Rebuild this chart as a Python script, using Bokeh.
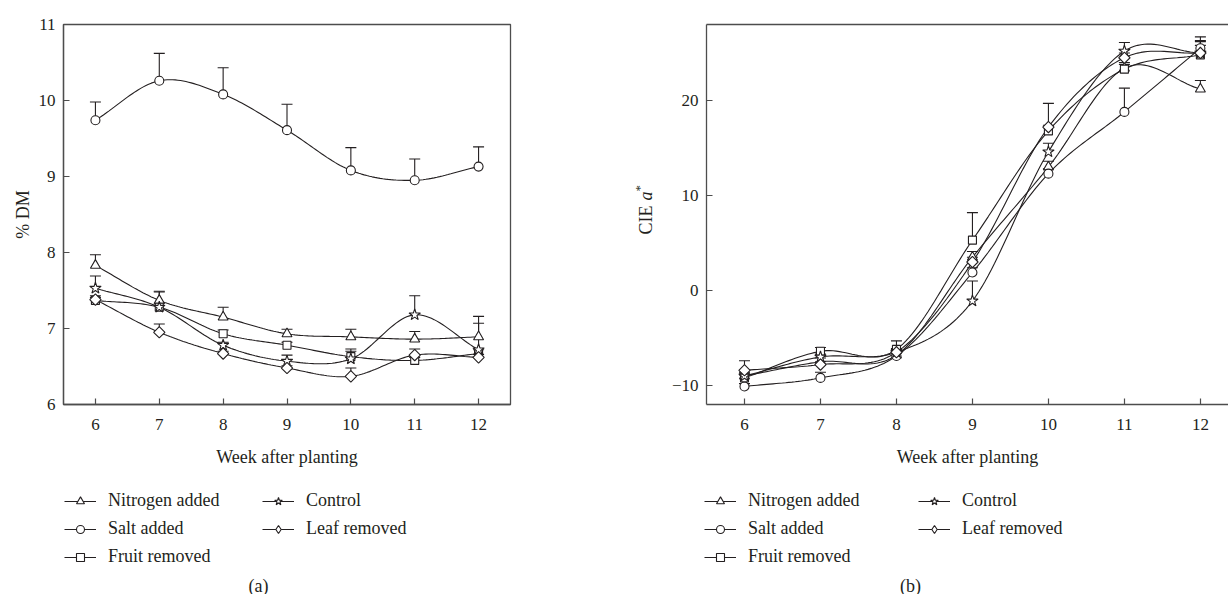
import numpy as np
from bokeh.plotting import figure
from bokeh.layouts import row, column
from bokeh.models import (ColumnDataSource, Whisker, TeeHead, Legend, LegendItem,
                          Label, LinearAxis, FixedTicker, Range1d)
from bokeh.embed import file_html
from bokeh.resources import INLINE

# ---------------- data ----------------
weeks = [6, 7, 8, 9, 10, 11, 12]
series_names = ["Nitrogen added", "Salt added", "Fruit removed", "Control", "Leaf removed"]
series_markers = ["triangle", "circle", "square", "star", "diamond"]

# (a) % DM
dm_nitrogen = [7.83, 7.37, 7.15, 6.93, 6.89, 6.86, 6.89]
dm_nitrogen_err = [0.14, 0.12, 0.13, 0.06, 0.10, 0.10, 0.18]
dm_salt = [9.74, 10.26, 10.08, 9.61, 9.08, 8.95, 9.13]
dm_salt_err = [0.24, 0.36, 0.35, 0.34, 0.30, 0.28, 0.26]
dm_fruit = [7.37, 7.28, 6.93, 6.78, 6.63, 6.58, 6.67]
dm_fruit_err = [0.06, 0.05, 0.05, 0.04, 0.10, 0.04, 0.05]
dm_control = [7.53, 7.28, 6.78, 6.57, 6.60, 7.18, 6.72]
dm_control_err = [0.16, 0.20, 0.04, 0.08, 0.10, 0.25, 0.44]
dm_leaf = [7.38, 6.95, 6.67, 6.48, 6.37, 6.65, 6.62]
dm_leaf_err = [0.03, 0.11, 0.03, 0.03, 0.11, 0.08, 0.04]

# (b) CIE a*
a_nitrogen = [-9.0, -7.5, -6.8, 3.5, 13.0, 23.4, 21.2]
a_nitrogen_err = [0.4, 0.4, 0.4, 0.6, 0.6, 0.6, 0.9]
a_salt = [-10.1, -9.2, -6.9, 1.9, 12.3, 18.8, 25.5]
a_salt_err = [0.3, 0.6, 0.3, 0.5, 0.5, 2.5, 1.2]
a_fruit = [-9.2, -6.4, -6.2, 5.3, 16.8, 23.3, 24.8]
a_fruit_err = [0.3, 0.4, 0.9, 2.9, 0.6, 0.5, 1.5]
a_control = [-9.0, -7.0, -6.5, -1.1, 14.6, 25.2, 25.0]
a_control_err = [0.3, 0.3, 0.4, 2.1, 0.9, 0.9, 1.2]
a_leaf = [-8.4, -7.8, -6.5, 3.0, 17.2, 24.5, 25.0]
a_leaf_err = [1.0, 0.3, 0.3, 0.5, 2.5, 0.5, 0.8]

dm_ticks = [6, 7, 8, 9, 10, 11]
a_ticks = [-10, 0, 10, 20]

# ---------------- style ----------------
FONT = "Liberation Serif"
INK = "#231f20"
AXIS = "#4d4d4d"
# marker name -> (bokeh marker, size, angle); in the charts the diamond is a square
# turned 45 degrees; legend keys do not rotate, so they use Bokeh's own diamond
marker_spec = {"triangle": ("triangle", 10, 0.0), "circle": ("circle", 9, 0.0),
               "square": ("square", 8, 0.0), "star": ("star", 12, 0.0),
               "diamond": ("square", 8, np.pi / 4)}
legend_spec = {"triangle": ("triangle", 9), "circle": ("circle", 8), "square": ("square", 7),
               "star": ("star", 11), "diamond": ("diamond", 12)}
TOP_H = 474          # height of the chart rows
BOT_H = 594 - TOP_H  # height of the legend rows


def smooth(xs, ys, n=24):
    """Cardinal (Catmull-Rom) spline through the data points, used to draw the curve."""
    xs = np.asarray(xs, float)
    ys = np.asarray(ys, float)
    m = np.zeros_like(ys)
    m[1:-1] = (ys[2:] - ys[:-2]) / (xs[2:] - xs[:-2])
    m[0] = (ys[1] - ys[0]) / (xs[1] - xs[0])
    m[-1] = (ys[-1] - ys[-2]) / (xs[-1] - xs[-2])
    ox, oy = [], []
    for i in range(len(xs) - 1):
        h = xs[i + 1] - xs[i]
        t = np.linspace(0, 1, n, endpoint=(i == len(xs) - 2))
        h00 = 2 * t**3 - 3 * t**2 + 1
        h10 = t**3 - 2 * t**2 + t
        h01 = -2 * t**3 + 3 * t**2
        h11 = t**3 - t**2
        ox.extend(xs[i] + t * h)
        oy.extend(h00 * ys[i] + h10 * h * m[i] + h01 * ys[i + 1] + h11 * h * m[i + 1])
    return ox, oy


def style_axis(ax):
    ax.axis_line_color = AXIS
    ax.axis_line_width = 1.3
    ax.major_tick_line_color = AXIS
    ax.major_tick_line_width = 1.2
    ax.major_tick_in = 6
    ax.major_tick_out = 0
    ax.minor_tick_line_color = None
    ax.major_label_text_font = FONT
    ax.major_label_text_font_size = "17px"
    ax.major_label_text_color = INK
    ax.axis_label_text_font = FONT
    ax.axis_label_text_font_size = "18px"
    ax.axis_label_text_color = INK
    ax.axis_label_text_font_style = "normal"


def make_panel(values, errs, xr, yr, yticks, fl, fw, fr):
    p = figure(frame_width=fw, frame_height=380, x_range=xr, y_range=yr,
               min_border_left=fl, min_border_right=fr, min_border_top=24,
               min_border_bottom=TOP_H - 404,
               output_backend="svg", toolbar_location=None)
    p.grid.visible = False
    p.background_fill_color = "white"
    p.border_fill_color = "white"
    p.xaxis.ticker = FixedTicker(ticks=weeks)
    p.yaxis.ticker = FixedTicker(ticks=yticks)
    p.xaxis.axis_label = "Week after planting"
    for ax in p.xaxis + p.yaxis:
        style_axis(ax)
    p.xaxis.major_label_standoff = 14
    p.xaxis.axis_label_standoff = 14
    p.yaxis.major_label_standoff = 8

    srcs = []
    for vals, err in zip(values, errs):
        sx, sy = smooth(weeks, vals)
        p.line(sx, sy, line_color=INK, line_width=1.1)
        src = ColumnDataSource(dict(x=weeks, y=vals, hi=[v + e for v, e in zip(vals, err)]))
        p.add_layout(Whisker(source=src, base="x", lower="y", upper="hi", dimension="height",
                             line_color=INK, line_width=1.1, level="underlay",
                             upper_head=TeeHead(size=11, line_color=INK, line_width=1.1),
                             lower_head=None))
        srcs.append(src)
    for src, mk in zip(srcs, series_markers):
        kind, size, angle = marker_spec[mk]
        p.scatter("x", "y", source=src, marker=kind, size=size, angle=angle,
                  fill_color="white", line_color=INK, line_width=1.1)
    return p


def make_legend_fig(values, width, left, label_width, caption, caption_x):
    # the legend sits in its own strip under the chart; its renderers hold the same
    # series but the strip's ranges keep them out of view, so only the keys show
    f = figure(width=width, height=BOT_H, x_range=Range1d(0, 1), y_range=Range1d(0, 1),
               x_axis_location=None, y_axis_location=None, min_border_left=left,
               min_border_top=16, min_border_right=0, min_border_bottom=0,
               output_backend="svg", toolbar_location=None)
    f.grid.visible = False
    f.outline_line_color = None
    items = []
    for name, mk, vals in zip(series_names, series_markers, values):
        lr = f.line(x=weeks, y=vals, line_color=INK, line_width=1.1)
        kind, size = legend_spec[mk]
        sr = f.scatter(x=weeks, y=vals, marker=kind, size=size,
                       fill_color="white", line_color=INK, line_width=1.1)
        items.append(LegendItem(label=name, renderers=[lr, sr]))
    leg = Legend(items=items, location="top_left", orientation="vertical", nrows=3,
                 glyph_width=32, glyph_height=20, label_height=20, label_standoff=12,
                 label_width=label_width, spacing=7, padding=0, margin=0,
                 border_line_color=None, background_fill_alpha=0,
                 label_text_font=FONT, label_text_font_size="18px", label_text_color=INK)
    f.add_layout(leg)
    f.add_layout(Label(x=caption_x, y=9, x_units="screen", y_units="screen", text=caption,
                       text_font=FONT, text_font_size="18px", text_color=INK,
                       text_align="center", text_baseline="middle"))
    return f


dm_values = [dm_nitrogen, dm_salt, dm_fruit, dm_control, dm_leaf]
a_values = [a_nitrogen, a_salt, a_fruit, a_control, a_leaf]

# left chart (a)
p1 = make_panel(dm_values,
                [dm_nitrogen_err, dm_salt_err, dm_fruit_err, dm_control_err, dm_leaf_err],
                Range1d(5.5, 12.5), Range1d(6, 11), dm_ticks, 63, 447, 104)
p1.yaxis.axis_label = "% DM"
p1.yaxis.axis_label_standoff = 3
p1.outline_line_color = AXIS
p1.outline_line_width = 1.3

# y title of (b): "CIE a*" with italic a and superscript asterisk
ylab = figure(width=40, height=TOP_H, x_range=Range1d(0, 1), y_range=Range1d(0, 1),
              x_axis_location=None, y_axis_location=None, min_border_left=0,
              min_border_right=0, min_border_top=0, min_border_bottom=0,
              output_backend="svg", toolbar_location=None)
ylab.grid.visible = False
ylab.outline_line_color = None
lx = 31
ly0 = 170   # frame of this strip is aligned with the chart frame (bottom at y = 404 px)
ylab.add_layout(Label(x=lx, y=ly0, x_units="screen", y_units="screen", text="CIE ",
                      angle=np.pi / 2, text_font=FONT, text_font_size="18px", text_color=INK,
                      text_align="left", text_baseline="middle"))
ylab.add_layout(Label(x=lx, y=ly0 + 34, x_units="screen", y_units="screen", text="a",
                      angle=np.pi / 2, text_font=FONT, text_font_size="18px", text_color=INK,
                      text_font_style="italic", text_align="left", text_baseline="middle"))
ylab.add_layout(Label(x=lx - 6, y=ly0 + 43, x_units="screen", y_units="screen", text="*",
                      angle=np.pi / 2, text_font=FONT, text_font_size="13px", text_color=INK,
                      text_align="left", text_baseline="middle"))

# right chart (b)
p2 = make_panel(a_values,
                [a_nitrogen_err, a_salt_err, a_fruit_err, a_control_err, a_leaf_err],
                Range1d(5.5, 12.37), Range1d(-12, 28), a_ticks, 52, 522, 0)
p2.outline_line_color = None
top = LinearAxis(ticker=FixedTicker(ticks=[]), axis_line_color=AXIS, axis_line_width=1.3,
                 major_tick_line_color=None, minor_tick_line_color=None,
                 major_label_text_font_size="0px")
p2.add_layout(top, "above")

leg_a = make_legend_fig(dm_values, 614, 64, 147, "(a)", 194)
leg_b = make_legend_fig(a_values, 614, 90, 163, "(b)", 206)

layout = column(row(p1, ylab, p2), row(leg_a, leg_b))
open("out.html", "w").write(file_html(layout, INLINE))
